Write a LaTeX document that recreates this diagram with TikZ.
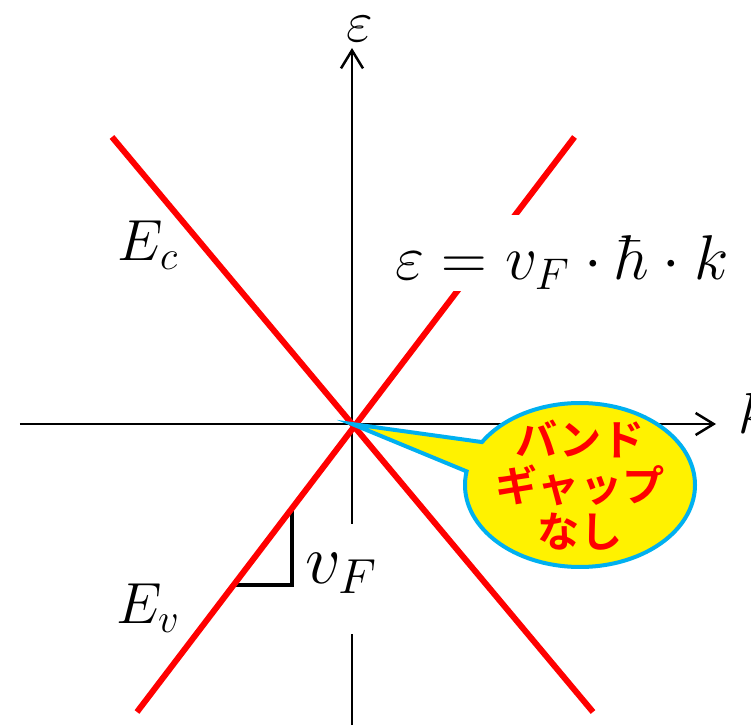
\documentclass[tikz,border=0pt]{standalone}
\usepackage{fix-cm}
\usepackage{fontspec}
\newfontfamily\jpfont{Noto Sans CJK JP}[BoldFont={Noto Sans CJK JP Bold}]
\definecolor{bandred}{RGB}{255,0,0}
\definecolor{noteblue}{RGB}{0,176,240}
\usepackage{tikz}
\usetikzlibrary{
  arrows.meta,
  shapes.callouts,
  calc
}

\begin{document}
\begin{tikzpicture}[
  axis/.style={line width=0.5mm, -{Straight Barb[length=3.6mm, width=4.4mm, line width=0.5mm]}},
  band/.style={line width=1.2mm, bandred},
  lbl/.style={font=\fontsize{33}{38}\selectfont},
  gapnote/.style={ellipse callout, draw=noteblue, line width=0.8mm, fill=yellow,
    minimum width=4.6cm, minimum height=3.28cm, inner xsep=-2pt, inner ysep=-5pt,
    callout pointer arc=22, align=center, text=bandred,
    font=\jpfont\bfseries\fontsize{24}{26}\selectfont}
]
  \useasboundingbox (-7.04,-6.02) rectangle (7.98,8.48);

  \coordinate (o) at (0,0);
  \coordinate (kl) at (-6.64,0);
  \coordinate (kr) at (7.28,0);
  \coordinate (eb) at (0,-6.02);
  \coordinate (et) at (0,7.52);

  % axes
  \draw[axis] (kl) -- (kr);
  \draw[axis] (eb) -- (et);
  \node[lbl, anchor=base west] (klabel) at (7.6,-0.2) {$k$};
  \node[lbl] (elabel) at (0.16,7.9) {$\varepsilon$};

  % bands
  \coordinate (cTop) at (-4.8,5.74);
  \coordinate (cBot) at (4.82,-5.76);
  \coordinate (vBot) at (-4.3,-5.76);
  \coordinate (vTop) at (4.45,5.74);

  \coordinate (t1) at (intersection of vBot--vTop and {-1.2,0}--{-1.2,-5});
  \coordinate (t3) at (intersection of vBot--vTop and {0,-3.22}--{-5,-3.22});
  \draw[line width=0.8mm, line join=miter] (t1) -- (t1 |- t3) -- (t3);

  \draw[band] (cTop) -- (cBot);
  \draw[band] (vBot) -- (vTop);

  \node[lbl] (Ec) at (-4.08,3.58) {$E_c$};
  \node[lbl] (Ev) at (-4.08,-3.68) {$E_v$};

  \node[lbl, font=\fontsize{36}{40}\selectfont, anchor=base west, fill=white, inner sep=0pt,
    text height=1.3cm, text depth=0.22cm]
    (disp) at (0.86,2.88) {$\varepsilon = v_F\cdot\hbar\cdot k$};
  \node[lbl, font=\fontsize{40}{44}\selectfont, anchor=base west, fill=white, inner sep=0pt,
    text height=1.18cm, text depth=1.02cm]
    (vf) at (-0.94,-3.18) {$v_F$};

  \node[gapnote, callout absolute pointer={(o)}] (nogap) at (4.56,-1.22) {バンド\\ギャップ\\なし};
\end{tikzpicture}
\end{document}
